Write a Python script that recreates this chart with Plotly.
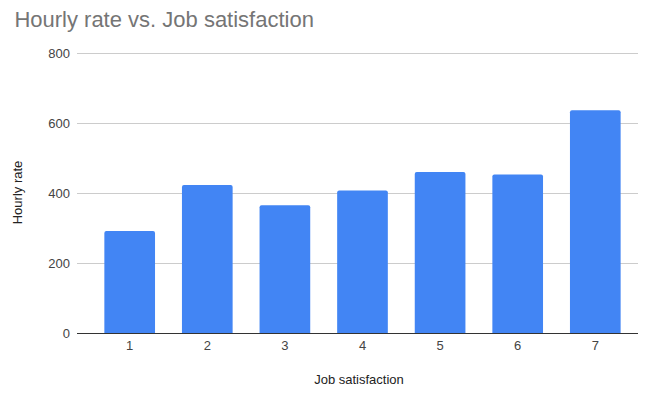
import plotly.graph_objects as go

categories = [1, 2, 3, 4, 5, 6, 7]
hourly_rate = [292, 424, 366, 408, 461, 454, 638]
y_ticks = [0, 200, 400, 600, 800]

fig = go.Figure()
fig.add_trace(go.Bar(
    x=categories, y=hourly_rate,
    width=0.653,
    marker=dict(color="#4285F4", cornerradius=2, line=dict(width=0)),
))

# the page adds an 8px body margin, so the figure is shifted by that amount
fig.update_layout(
    width=638, height=390,
    margin=dict(l=69, r=5, t=44, b=65),
    paper_bgcolor="white", plot_bgcolor="white",
    font=dict(family="Liberation Sans, Arial, sans-serif", size=13, color="#444444"),
    title=dict(text="Hourly rate vs. Job satisfaction", x=0.01, xanchor="left",
               y=0.99, yanchor="top",
               font=dict(size=22, color="#757575", family="Liberation Sans, Arial, sans-serif")),
    showlegend=False,
    xaxis=dict(
        range=[0.321, 7.589], tickvals=categories, ticktext=[str(c) for c in categories],
        showgrid=False, zeroline=False, showline=True, linecolor="#333333", linewidth=1,
        ticks="", tickfont=dict(size=13, color="#444444"),
        title=dict(text="Job satisfaction", font=dict(size=13, color="#222222"), standoff=23),
        fixedrange=True,
    ),
    yaxis=dict(
        range=[0, 805], tickvals=y_ticks,
        showgrid=True, gridcolor="#cccccc", gridwidth=1,
        zeroline=True, zerolinecolor="#333333", zerolinewidth=1,
        ticks="", tickfont=dict(size=13, color="#444444"), ticklabelstandoff=6,
        title=dict(text="Hourly rate", font=dict(size=13, color="#222222"), standoff=22),
        fixedrange=True,
    ),
)

fig.write_html("out.html")
